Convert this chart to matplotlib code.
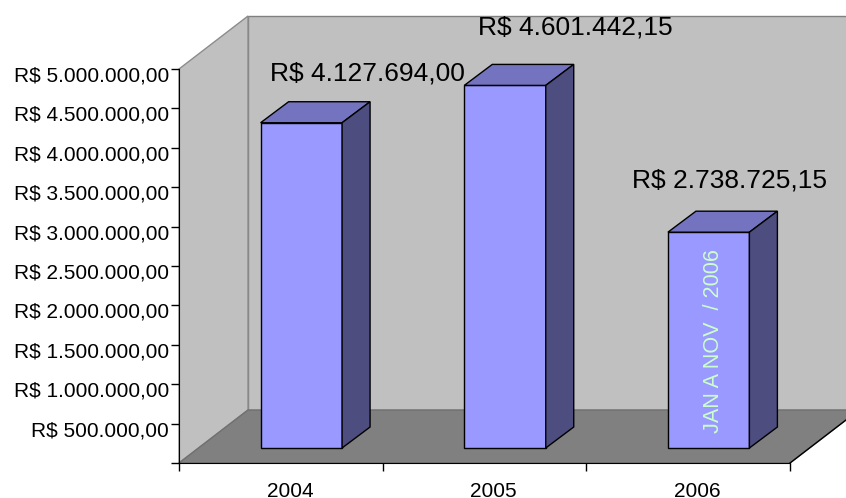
import matplotlib
matplotlib.use("Agg")
import matplotlib.pyplot as plt
from matplotlib.patches import Polygon
from matplotlib.transforms import Affine2D

plt.rcParams['font.family'] = ['Liberation Sans', 'DejaVu Sans']

anos = ["2004", "2005", "2006"]
valores = [4127694.00, 4601442.15, 2738725.15]
rotulos = ["R$ 4.127.694,00", "R$ 4.601.442,15", "R$ 2.738.725,15"]
ticks = [0, 500000, 1000000, 1500000, 2000000, 2500000, 3000000, 3500000, 4000000, 4500000, 5000000]
tick_labels = ["", "R$ 500.000,00", "R$ 1.000.000,00", "R$ 1.500.000,00", "R$ 2.000.000,00", "R$ 2.500.000,00",
               "R$ 3.000.000,00", "R$ 3.500.000,00", "R$ 4.000.000,00", "R$ 4.500.000,00", "R$ 5.000.000,00"]

W, H = 846, 498
fig = plt.figure(figsize=(W / 100, H / 100), dpi=100)
# frente do grafico: x 179-790, y 463-69 em pixels
ax = fig.add_axes([179 / W, 1 - 463 / H, (790 - 179) / W, (463 - 69) / H])
ax.set_xlim(0, 3)
ax.set_ylim(0, 5000000)

px_x = 3 / (790 - 179)
px_y = 5000000 / (463 - 69)


def desl(x, y, dx, dy):
    return (x + dx * px_x, y + dy * px_y)


# parede do fundo, parede lateral e chao
parede = [desl(0, 0, 69, 53), desl(0, 5000000, 69, 53), desl(3, 5000000, 69, 53), desl(3, 0, 69, 53)]
ax.add_patch(Polygon(parede, closed=True, facecolor="#C0C0C0", edgecolor="#808080", linewidth=1, clip_on=False, zorder=1))
ax.add_patch(Polygon([desl(0, 0, 0, 0), desl(0, 5000000, 0, 0), desl(0, 5000000, 69, 53), desl(0, 0, 69, 53)],
                     closed=True, facecolor="#C0C0C0", edgecolor="#8C8C8C", linewidth=1, clip_on=False, zorder=1))
chao = [desl(0, 0, 0, 0), desl(3, 0, 0, 0), desl(3, 0, 69, 53), desl(0, 0, 69, 53)]
ax.add_patch(Polygon(chao, closed=True, facecolor="#808080", edgecolor="#707070", linewidth=1, clip_on=False, zorder=1))
ax.plot([3, desl(3, 0, 69, 53)[0]], [0, desl(3, 0, 69, 53)[1]], color="black", linewidth=1, clip_on=False, zorder=2)

# barras
largura = 0.4
sx, sy = 20.5, 15
prof_x, prof_y = 28, 21
pos = [0.5, 1.5, 2.5]
pos_barras = [p + sx * px_x for p in pos]
ax.bar(pos_barras, valores, width=largura, bottom=sy * px_y, color="#9999FF", edgecolor="black", linewidth=1,
       zorder=3, clip_on=False)
for p, v in zip(pos, valores):
    e, d = p - largura / 2, p + largura / 2
    topo = [desl(e, v, sx, sy), desl(d, v, sx, sy), desl(d, v, sx + prof_x, sy + prof_y), desl(e, v, sx + prof_x, sy + prof_y)]
    lado = [desl(d, 0, sx, sy), desl(d, v, sx, sy), desl(d, v, sx + prof_x, sy + prof_y), desl(d, 0, sx + prof_x, sy + prof_y)]
    ax.add_patch(Polygon(topo, closed=True, facecolor="#7373BF", edgecolor="black", linewidth=1, clip_on=False, zorder=3))
    ax.add_patch(Polygon(lado, closed=True, facecolor="#4D4D80", edgecolor="black", linewidth=1, clip_on=False, zorder=3))

# rotulos
ax.text(*desl(0.5, valores[0], 87, 64), rotulos[0], fontsize=19, ha="center", va="center", clip_on=False, zorder=6)
ax.text(*desl(1.5, valores[1], 90.5, 73), rotulos[1], fontsize=19, ha="center", va="center", clip_on=False, zorder=6)
ax.text(*desl(2.5, valores[2], 41, 67), rotulos[2], fontsize=19, ha="center", va="center", clip_on=False, zorder=6)
ax.text(*desl(2.5, 1554000, 25, 0), "JAN A NOV  / 2006", fontsize=15.6, color="#CCFFCC", rotation=90,
        ha="center", va="center", zorder=5)

ax.spines["top"].set_visible(False)
ax.spines["right"].set_visible(False)
ax.spines["left"].set_zorder(2)
ax.spines["bottom"].set_zorder(2)
ax.set_xticks([0, 1, 2, 3])
ax.set_xticklabels([])
ax.set_xticks([p + 9 * px_x for p in pos], minor=True)
ax.set_xticklabels(anos, minor=True, fontsize=15)
ax.tick_params(axis="x", which="minor", length=0, pad=14)
ax.tick_params(axis="x", which="major", length=5.8, width=1)
ax.set_yticks(ticks)
ax.set_yticklabels(tick_labels, fontsize=15)
ax.tick_params(axis="y", length=5.8, width=1, pad=1.5)
for lab in ax.get_yticklabels():
    lab.set_transform(lab.get_transform() + Affine2D().translate(0, -5))
ax.patch.set_visible(False)

fig.savefig("out.png", dpi=100)
